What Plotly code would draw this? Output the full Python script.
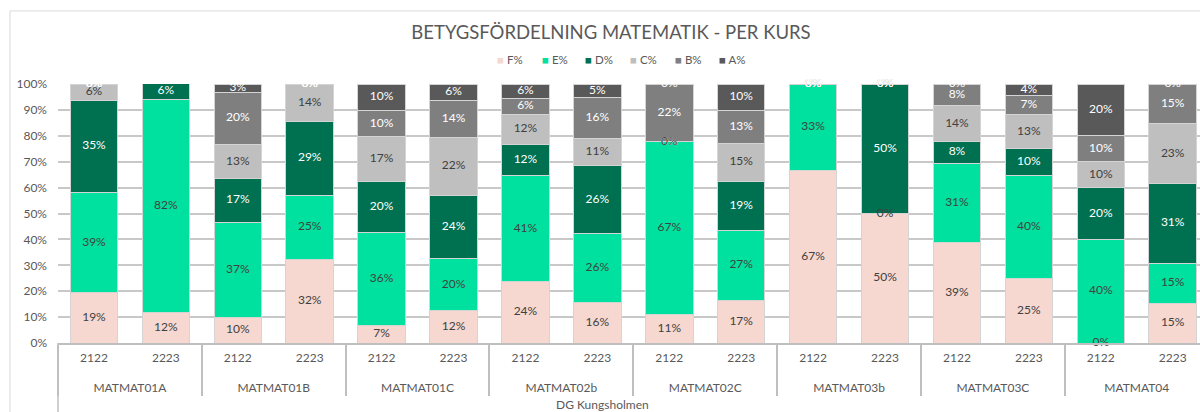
import plotly.graph_objects as go

courses = ["MATMAT01A", "MATMAT01A", "MATMAT01B", "MATMAT01B", "MATMAT01C", "MATMAT01C",
           "MATMAT02b", "MATMAT02b", "MATMAT02C", "MATMAT02C", "MATMAT03b", "MATMAT03b",
           "MATMAT03C", "MATMAT03C", "MATMAT04", "MATMAT04"]
years = ["2122", "2223"] * 8
school = "DG Kungsholmen"
title = "BETYGSFÖRDELNING MATEMATIK - PER KURS"

F = [19.4, 11.8, 10.0, 32.1, 6.6, 12.4, 23.6, 15.8, 11.1, 16.6, 66.7, 50.0, 38.9, 24.9, 0.0, 15.4]
E = [38.8, 82.4, 36.7, 25.0, 35.9, 20.3, 41.2, 26.3, 66.7, 27.0, 33.3, 0.0, 30.6, 39.8, 40.0, 15.4]
D = [35.4, 5.9, 16.7, 28.6, 20.0, 24.4, 11.8, 26.3, 0.0, 18.8, 0.0, 50.0, 8.3, 10.4, 20.0, 30.8]
C = [6.4, 0.0, 13.3, 14.3, 17.2, 22.4, 11.8, 10.6, 0.0, 14.6, 0.0, 0.0, 13.9, 13.1, 10.0, 23.1]
B = [0.0, 0.0, 20.0, 0.0, 10.0, 14.3, 5.9, 15.7, 22.2, 12.9, 0.0, 0.0, 8.3, 7.4, 10.0, 15.3]
A = [0.0, 0.0, 3.3, 0.0, 10.3, 6.2, 5.7, 5.3, 0.0, 10.1, 0.0, 0.0, 0.0, 4.4, 20.0, 0.0]

series = [("F%", F, "#f6d8d0", "#404040"),
          ("E%", E, "#00e09e", "#404040"),
          ("D%", D, "#007150", "#ffffff"),
          ("C%", C, "#bfbfbf", "#404040"),
          ("B%", B, "#7f7f7f", "#ffffff"),
          ("A%", A, "#595959", "#ffffff")]

FONT = "Lato"
L, W = 58, 1142  # plot left edge and width in px
fig = go.Figure()
x = [["<br>" + c for c in courses], years]
base = [0.0] * len(years)
label_traces = []
for name, vals, col, tcol in series:
    fig.add_trace(go.Bar(
        x=x, y=vals, name=name, marker=dict(color=col, line=dict(color="#d4d4d4", width=1)),
        hoverinfo="skip", showlegend=False))
    ty = [b + v / 2 if v > 0 else b for b, v in zip(base, vals)]
    txt = [f"{v:.0f}%" for v in vals]
    label_traces.append(go.Scatter(
        x=x, y=ty, text=txt, mode="text", showlegend=False, hoverinfo="skip",
        textfont=dict(family=FONT, size=12, color=tcol), cliponaxis=False))
    base = [b + v for b, v in zip(base, vals)]
for t in label_traces:
    fig.add_trace(t)

# custom compact legend
for i, (name, vals, col, tcol) in enumerate(series):
    px = 510 + 44.5 * i
    fig.add_annotation(text=f"<span style='color:{col}'>■</span> {name}",
                       xref="paper", yref="paper", x=(px - L) / W, y=(343 - 60) / 259,
                       xanchor="center", yanchor="middle", showarrow=False,
                       font=dict(family=FONT, size=11.5, color="#595959"))

fig.update_layout(
    barmode="stack", bargap=0.34,
    width=1200, height=412,
    margin=dict(l=L, r=0, t=84, b=69),
    paper_bgcolor="white", plot_bgcolor="white",
    font=dict(family=FONT, size=12, color="#595959"),
    title=dict(text=title, x=(611 - L) / W, xref="paper", xanchor="center", y=0.922,
               yanchor="middle", font=dict(family=FONT, size=18.5, color="#595959")),
    showlegend=False,
)
fig.update_xaxes(
    type="multicategory", range=[-0.5, 15.38], showgrid=False,
    showline=True, linecolor="#bfbfbf", linewidth=1.5,
    showdividers=True, dividercolor="#bfbfbf", dividerwidth=1.5,
    tickfont=dict(family=FONT, size=12, color="#595959"), ticks="",
    ticklabelstandoff=3,
)
fig.update_yaxes(
    range=[0, 100], dtick=10, ticksuffix="%", showgrid=True, gridcolor="#c8c8c8", gridwidth=1.5,
    zeroline=False, showline=False, tickfont=dict(family=FONT, size=12, color="#595959"),
    ticklabelstandoff=10,
)
# school label (third axis level) and chart frame
fig.add_annotation(text=school, xref="paper", yref="paper", x=(602 - L) / W, y=(343 - 404) / 259,
                   xanchor="center", yanchor="middle", showarrow=False,
                   font=dict(family=FONT, size=12, color="#595959"))
fig.add_shape(type="line", xref="paper", yref="paper", x0=0, x1=0, y0=0, y1=-0.3,
              line=dict(color="#bfbfbf", width=1.5))
fig.add_shape(type="line", xref="paper", yref="paper", x0=-0.042, x1=-0.042, y0=1.282, y1=-0.3,
              line=dict(color="#d9d9d9", width=1))
fig.add_shape(type="line", xref="paper", yref="paper", x0=-0.042, x1=1.0, y0=1.282, y1=1.282,
              line=dict(color="#d9d9d9", width=1))

fig.write_html("out.html", config={"displayModeBar": False},
               post_script="document.body.style.margin='0';document.body.style.overflow='hidden';")
